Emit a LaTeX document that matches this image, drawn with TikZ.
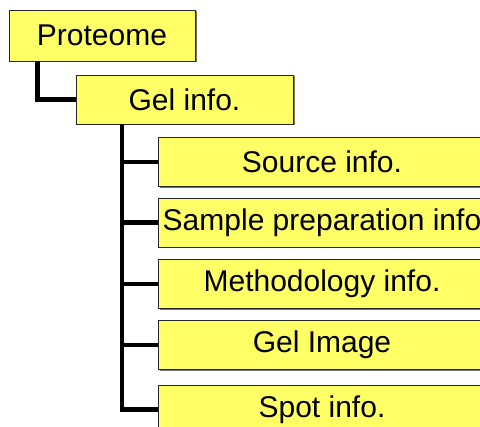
\documentclass[tikz,border=0pt]{standalone}
\usepackage{fontspec}
\setmainfont{Liberation Sans}
\usetikzlibrary{shadows}
\definecolor{boxyellow}{RGB}{255,255,102}
\tikzset{
  item/.style={draw=black!85,line width=0.8pt,fill=boxyellow,inner sep=0pt,
    font=\fontsize{30}{35}\selectfont,
    drop shadow={shadow xshift=1.5pt,shadow yshift=-1.5pt,fill=black!55,opacity=1}},
  link/.style={line width=4.5pt,line join=miter}
}

\begin{document}
\begin{tikzpicture}[x=1pt,y=-1pt]
    \useasboundingbox (0,0) rectangle (480,427);
    \clip (0,0) rectangle (480,427);
    \node[item,minimum width=186pt,minimum height=51pt] (proteome) at (102,35.5) {Proteome};
    \node[item,minimum width=217pt,minimum height=49pt] (gelinfo) at (184.5,99.5) {Gel info.};
    \node[item,minimum width=328pt,minimum height=49pt] (source) at (322,162) {Source info.};
    \node[item,minimum width=328pt,minimum height=49pt] (sample) at (322,222.5) {Sample preparation info};
    \node[item,minimum width=328pt,minimum height=49pt] (method) at (322,284) {Methodology info.};
    \node[item,minimum width=328pt,minimum height=49pt] (gelimage) at (322,345) {Gel Image};
    \node[item,minimum width=328pt,minimum height=49pt] (spot) at (322,409.5) {Spot info.};
    \coordinate (trunk) at ([xshift=46.5pt]gelinfo.south west);
    \draw[link] ([xshift=29pt]proteome.south west) |- (gelinfo.west);
    \foreach \n in {source,sample,method,gelimage,spot}
      \draw[link] (trunk) |- (\n.west);
  \end{tikzpicture}
\end{document}
